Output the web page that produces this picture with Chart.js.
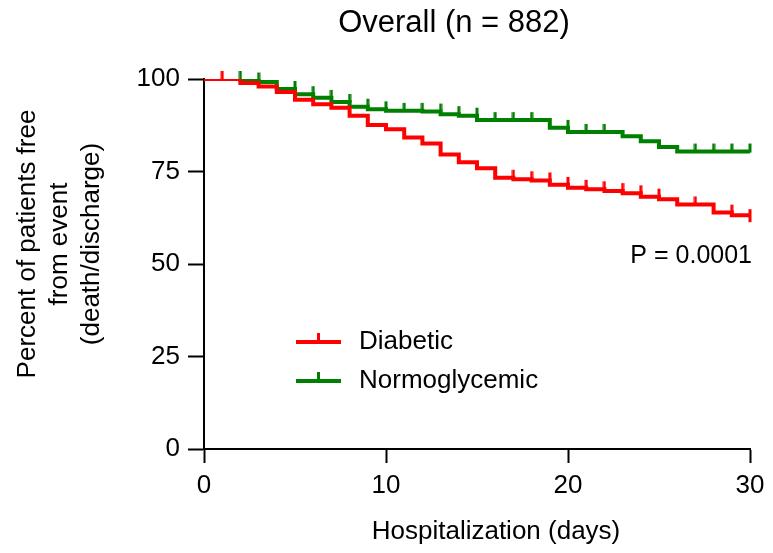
<!DOCTYPE html>
<html><head><meta charset="utf-8">
<script src="https://cdn.jsdelivr.net/npm/chart.js@4.4.1/dist/chart.umd.min.js"></script>
<style>html,body{margin:0;padding:0;background:#fff}#wrap{width:773px;height:553px}</style>
</head><body><div id="wrap"><canvas id="c" width="773" height="553"></canvas></div>
<script>
// ---- data ----
const days = [0,1,2,3,4,5,6,7,8,9,10,11,12,13,14,15,16,17,18,19,20,21,22,23,24,25,26,27,28,29,30];
const diabetic = [100,100,98.9,98.0,96.5,94.4,93.2,92.2,90.1,87.6,86.4,84.2,82.6,79.6,77.5,75.9,73.3,72.9,72.6,71.4,70.6,70.2,69.7,69.1,68.2,67.5,66.1,66.1,63.9,63.2,63.2];
const normoglycemic = [100,100,99.6,99.2,97.3,95.9,94.9,93.8,92.5,91.8,91.4,91.4,91.2,90.5,90.1,88.9,88.9,88.9,88.9,86.8,85.7,85.7,85.7,84.5,83.2,81.6,80.4,80.4,80.4,80.4,80.4];
const diabeticCensored = [1,17,18,19,20,21,22,23,24,25,27,29,30];
const normoCensored = [2,3,5,6,7,8,9,10,11,12,13,14,15,16,17,18,20,21,22,27,28,29,30];
const xTickValues = [0,10,20,30];
const yTickValues = [0,25,50,75,100];
const seriesNames = ['Diabetic','Normoglycemic'];
const titleText = 'Overall (n = 882)';
const yTitleLines = ['Percent of patients free','from event','(death/discharge)'];
const xTitleText = 'Hospitalization (days)';
const pValueText = 'P = 0.0001';

const RED = '#ff0000', GREEN = '#008000';
const FONT = '"Liberation Sans", Arial, Helvetica, sans-serif';
Chart.defaults.font.family = FONT;

function tickMark(color, both){
  const c = document.createElement('canvas');
  c.width = 4; c.height = 20;
  const g = c.getContext('2d');
  g.fillStyle = color;
  if (both) g.fillRect(0.5, 4, 3, 13); else g.fillRect(0.5, 2, 3, 9);
  return c;
}
const redTick = tickMark(RED,false), redTickBoth = tickMark(RED,true), greenTick = tickMark(GREEN,false);

const curve = (vals) => days.map((d,i)=>({x:d, y:vals[i]}));
const censor = (list, vals) => list.map(t => ({x:t, y:vals[days.indexOf(t)-1]}));

const textPlugin = {
  id:'texts',
  afterDraw(chart){
    const ctx = chart.ctx;
    ctx.save();
    ctx.fillStyle = '#000';
    // title
    ctx.font = '31px ' + FONT;
    ctx.textAlign = 'center'; ctx.textBaseline = 'middle';
    ctx.fillText(titleText, 454, 23);
    // x title
    ctx.font = '26px ' + FONT;
    ctx.fillText(xTitleText, 496, 532);
    // y title
    ctx.save();
    ctx.translate(0, 244);
    ctx.rotate(-Math.PI/2);
    const xs = [28, 60, 92];
    yTitleLines.forEach((l,i)=>{ ctx.fillText(l, 0, xs[i]); });
    ctx.restore();
    // p value
    ctx.font = '25px ' + FONT;
    ctx.textAlign = 'right';
    ctx.fillText(pValueText, 752, 256);
    // legend
    const items = [[RED, 342], [GREEN, 381]];
    items.forEach(([col,y],i)=>{
      ctx.strokeStyle = col; ctx.lineWidth = 4;
      ctx.beginPath(); ctx.moveTo(296, y); ctx.lineTo(341, y); ctx.stroke();
      ctx.lineWidth = 3;
      ctx.beginPath(); ctx.moveTo(318.5, y); ctx.lineTo(318.5, y-9); ctx.stroke();
      ctx.fillStyle = '#000';
      ctx.font = '26px ' + FONT;
      ctx.textAlign = 'left'; ctx.textBaseline = 'middle';
      ctx.fillText(seriesNames[i], 359, y);
    });
    ctx.restore();
  }
};

new Chart(document.getElementById('c'), {
  type:'line',
  data:{
    datasets:[
      {label:seriesNames[0], data:curve(diabetic), borderColor:RED, borderWidth:4, stepped:true, pointRadius:0, fill:false, order:1},
      {label:seriesNames[1], data:curve(normoglycemic), borderColor:GREEN, borderWidth:4, stepped:true, pointRadius:0, fill:false, order:3},
      {label:'c1', data:censor(diabeticCensored, diabetic), showLine:false, pointStyle:(c)=> c.dataIndex===diabeticCensored.length-1 ? redTickBoth : redTick, pointRadius:5, clip:false, order:0},
      {label:'c2', data:censor(normoCensored, normoglycemic), showLine:false, pointStyle:greenTick, pointRadius:5, clip:false, order:2}
    ]
  },
  options:{
    responsive:false, animation:false,
    layout:{padding:{top:79, right:23, left:0, bottom:0}},
    plugins:{legend:{display:false}, title:{display:false}, tooltip:{enabled:false}},
    scales:{
      x:{type:'linear', min:0, max:30,
        afterFit:(s)=>{s.height = 104;},
        afterBuildTicks:(s)=>{s.ticks = xTickValues.map(v=>({value:v}));},
        ticks:{font:{size:26}, color:'#000', padding:7, maxRotation:0},
        grid:{drawOnChartArea:false, drawTicks:true, tickLength:14, tickColor:'#000', tickWidth:2},
        border:{color:'#000', width:2}
      },
      y:{type:'linear', min:0, max:100,
        afterFit:(s)=>{s.width = 204;},
        afterBuildTicks:(s)=>{s.ticks = yTickValues.map(v=>({value:v}));},
        ticks:{font:{size:26}, color:'#000', padding:8},
        grid:{drawOnChartArea:false, drawTicks:true, tickLength:16, tickColor:'#000', tickWidth:2},
        border:{color:'#000', width:2}
      }
    }
  },
  plugins:[textPlugin]
});
</script></body></html>
